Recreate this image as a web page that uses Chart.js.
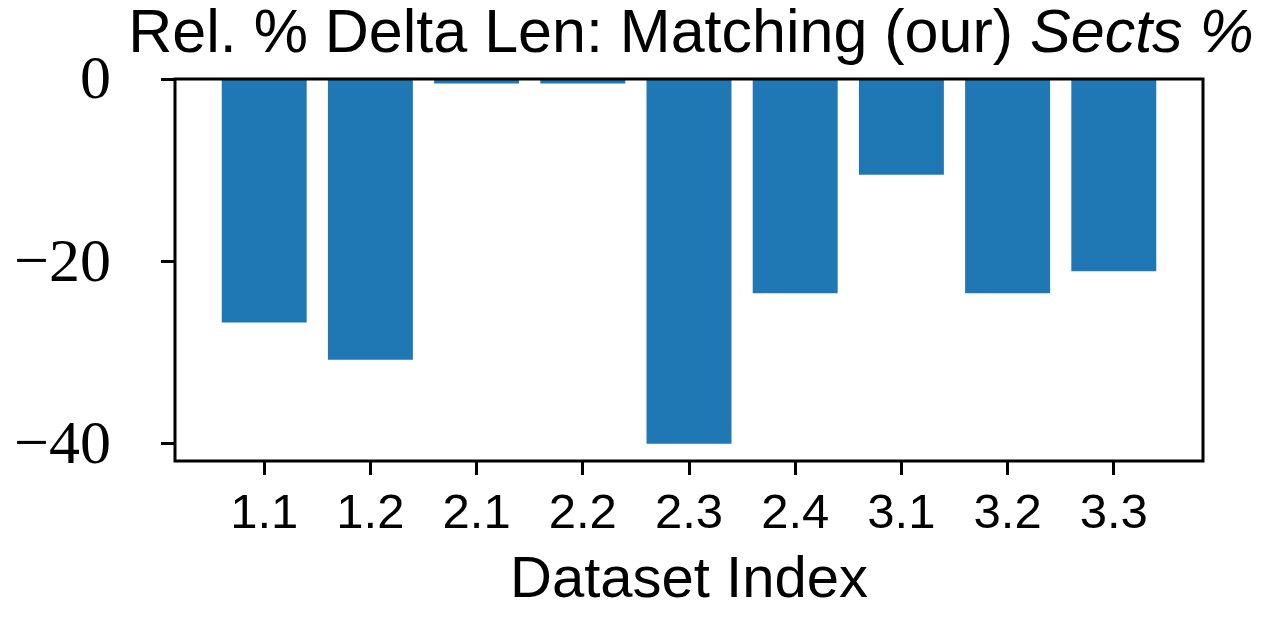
<!DOCTYPE html>
<html>
<head>
<meta charset="utf-8">
<script src="https://cdn.jsdelivr.net/npm/chart.js@4.4.1/dist/chart.umd.min.js"></script>
<style>
  html, body { margin: 0; padding: 0; background: #fff; }
  canvas { display: block; }
</style>
</head>
<body>
<canvas id="deltaChart" width="1261" height="624"></canvas>
<script>
// dataset index labels and relative % delta of the length (Sects %)
const categories = ['1.1', '1.2', '2.1', '2.2', '2.3', '2.4', '3.1', '3.2', '3.3'];
const deltaValues = [-26.7, -30.8, -0.5, -0.5, -40.0, -23.5, -10.5, -23.5, -21.1];
const yTicks = [-40, -20, 0];

const titleMain = 'Rel. % Delta Len: Matching (our) ';
const titleItalic = 'Sects %';
const xLabel = 'Dataset Index';

const BAR_COLOR = '#1f77b4';
const SANS = '"Liberation Sans", Arial, sans-serif';
const SERIF = '"Liberation Serif", "Times New Roman", serif';

// title with an italic tail + full box around the plot
const framePlugin = {
  id: 'frame',
  afterDraw(chart) {
    const { ctx, chartArea } = chart;
    ctx.save();
    ctx.strokeStyle = '#000';
    ctx.lineWidth = 3;
    ctx.strokeRect(chartArea.left, chartArea.top, chartArea.right - chartArea.left, chartArea.bottom - chartArea.top);

    ctx.fillStyle = '#000';
    ctx.textBaseline = 'alphabetic';
    ctx.font = '61px ' + SANS;
    const w1 = ctx.measureText(titleMain).width;
    ctx.font = 'italic 61px ' + SANS;
    const w2 = ctx.measureText(titleItalic).width;
    const cx = (chartArea.left + chartArea.right) / 2 + 2;
    const x = cx - (w1 + w2) / 2;
    ctx.font = '61px ' + SANS;
    ctx.fillText(titleMain, x, 52);
    ctx.font = 'italic 61px ' + SANS;
    ctx.fillText(titleItalic, x + w1, 52);
    ctx.restore();
  }
};

const ctx = document.getElementById('deltaChart');
new Chart(ctx, {
  type: 'bar',
  data: {
    datasets: [{
      data: categories.map((c, i) => ({ x: i, y: deltaValues[i] })),
      backgroundColor: BAR_COLOR,
      borderWidth: 0,
      categoryPercentage: 1.0,
      barPercentage: 0.8
    }]
  },
  options: {
    responsive: false,
    animation: false,
    layout: { padding: { top: 79, right: 58, bottom: 0, left: 0 } },
    plugins: {
      legend: { display: false },
      title: { display: false },
      tooltip: { enabled: false }
    },
    scales: {
      x: {
        type: 'linear',
        offset: false,
        min: -0.84,
        max: 8.84,
        afterBuildTicks: (scale) => { scale.ticks = categories.map((c, i) => ({ value: i })); },
        afterFit: (scale) => {
          scale.height = 624 - 461;
          scale.paddingLeft = 0;
          scale.paddingRight = 0;
        },
        grid: { offset: false, drawOnChartArea: false, drawTicks: true, tickLength: 14, tickWidth: 3, tickColor: '#000' },
        border: { display: false },
        ticks: {
          autoSkip: false,
          maxRotation: 0,
          padding: 10,
          color: '#000',
          font: { family: SANS, size: 49 },
          callback: (v) => categories[v]
        },
        title: {
          display: true,
          text: xLabel,
          color: '#000',
          font: { family: SANS, size: 58 },
          padding: { top: 0, bottom: 8 }
        }
      },
      y: {
        min: -41.9,
        max: 0,
        afterBuildTicks: (scale) => { scale.ticks = yTicks.map(v => ({ value: v })); },
        afterFit: (scale) => {
          scale.width = 175;
          scale.paddingTop = 0;
          scale.paddingBottom = 0;
        },
        grid: { drawOnChartArea: false, drawTicks: true, tickLength: 14, tickWidth: 3, tickColor: '#000' },
        border: { display: false },
        ticks: {
          padding: 50,
          labelOffset: 3,
          color: '#000',
          font: { family: SERIF, size: 62 },
          callback: (v) => (v < 0 ? '\u2212' + Math.abs(v) : String(v))
        }
      }
    }
  },
  plugins: [framePlugin]
});
</script>
</body>
</html>
